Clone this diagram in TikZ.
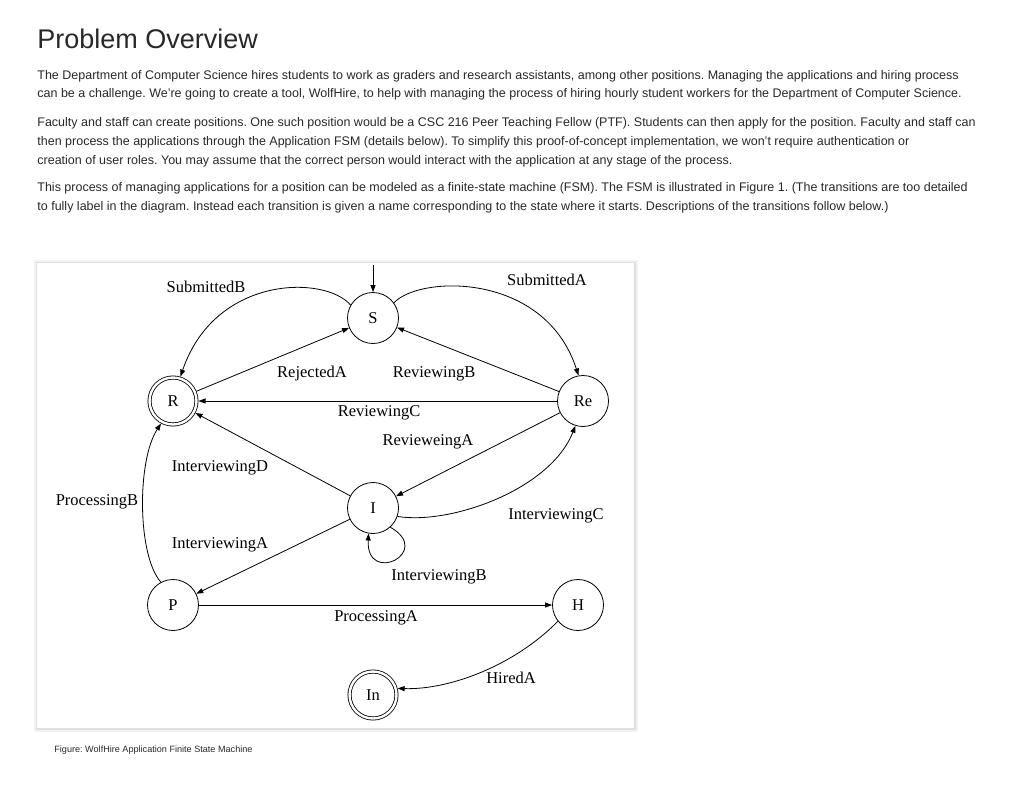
\documentclass[tikz,border=0pt]{standalone}
\usepackage{fontspec}
\setmainfont{Liberation Sans}
\newfontfamily\fsmfont{Liberation Serif}
\usetikzlibrary{arrows.meta}
\definecolor{textgray}{RGB}{40,40,40}
\frenchspacing
\tikzset{
	state/.style={circle, draw, minimum size=51pt, inner sep=0pt, font=\fsmfont\fontsize{16.5}{16.5}\selectfont},
	final/.style={state, double, double distance=2.4pt, minimum size=47pt, outer sep=2pt},
	trans/.style={inner sep=0pt, font=\fsmfont\fontsize{16.5}{16.5}\selectfont},
	body/.style={anchor=base west, inner sep=0pt, text=textgray, font=\fontsize{12.5}{14}\selectfont},
}
\begin{document}
\begin{tikzpicture}[x=1pt, y=-1pt, line width=0.8pt, >={Triangle[length=7pt,width=5pt]}]
	\useasboundingbox (0,0) rectangle (1024,787);
	
	\node[anchor=base west, inner sep=0pt, text=textgray, font=\fontsize{27}{30}\selectfont] (title) at (37,48) {Problem Overview};
	\node[body] (l1) at (37,79) {The Department of Computer Science hires students to work as graders and research assistants, among other positions. Managing the applications and hiring process};
	\node[body] (l2) at (37,97.5) {can be a challenge. We’re going to create a tool, WolfHire, to help with managing the process of hiring hourly student workers for the Department of Computer Science.};
	\node[body] (l3) at (37,126.5) {Faculty and staff can create positions. One such position would be a CSC 216 Peer Teaching Fellow (PTF). Students can then apply for the position. Faculty and staff can};
	\node[body] (l4) at (37,145.5) {then process the applications through the Application FSM (details below). To simplify this proof-of-concept implementation, we won’t require authentication or};
	\node[body] (l5) at (37,164.5) {creation of user roles. You may assume that the correct person would interact with the application at any stage of the process.};
	\node[body] (l6) at (37,191.5) {This process of managing applications for a position can be modeled as a finite-state machine (FSM). The FSM is illustrated in Figure 1. (The transitions are too detailed};
	\node[body] (l7) at (37,210) {to fully label in the diagram. Instead each transition is given a name corresponding to the state where it starts. Descriptions of the transitions follow below.)};
	
	% marco de la figura
	\fill[black!5] (34,260) rectangle (638,732);
	\fill[black!13] (36,262) rectangle (636,730);
	\fill[white] (37,263) rectangle (634,728);
	
	\node[state] (S) at (373,318) {S};
	\node[final] (R) at (173,401) {R};
	\node[state] (Re) at (583,401) {Re};
	\node[state] (I) at (373,508) {I};
	\node[state] (P) at (173,605) {P};
	\node[state] (H) at (578,605) {H};
	\node[final] (In) at (373,695) {In};
	\coordinate (start) at (373,265);
	
	\draw[->] (start) -- (S);
	\draw[->] (S.36) .. controls (420,275) and (545,272) .. (Re.100);
	\draw[->] (S.150) .. controls (325,275) and (215,275) .. (R.73);
	\draw[->] (R) -- (S);
	\draw[->] (Re) -- (S);
	\draw[->] (Re) -- (R);
	\draw[->] (Re) -- (I);
	\draw[->] (I.-19) .. controls (450,525) and (550,490) .. (Re.-107);
	\draw[->] (I) -- (R);
	\draw[->] (I) -- (P);
	\draw[->] (I.-48) .. controls (434,552) and (366,586) .. (I.-100);
	\draw[->] (P.118) .. controls (137,555) and (137,460) .. (R.-118);
	\draw[->] (P) -- (H);
	\draw[->] (H.-141) .. controls (515,665) and (450,690) .. (In.15);
	
	\node[trans] (tSubB) at (206,287) {SubmittedB};
	\node[trans] (tSubA) at (547,280) {SubmittedA};
	\node[trans] (tRejA) at (312,374) {RejectedA};
	\node[trans] (tRevB) at (434,374) {ReviewingB};
	\node[trans] (tRevC) at (379,413) {ReviewingC};
	\node[trans] (tRevA) at (428,442) {RevieweingA};
	\node[trans] (tIntD) at (220,468) {InterviewingD};
	\node[trans] (tProB) at (97,502) {ProcessingB};
	\node[trans] (tIntC) at (556,516) {InterviewingC};
	\node[trans] (tIntA) at (220,545) {InterviewingA};
	\node[trans] (tIntB) at (439,577) {InterviewingB};
	\node[trans] (tProA) at (376,618) {ProcessingA};
	\node[trans] (tHirA) at (511,678) {HiredA};
	
	\node[anchor=base west, inner sep=0pt, text=textgray, font=\fontsize{9.1}{10}\selectfont] (caption) at (54,752) {Figure: WolfHire Application Finite State Machine};
\end{tikzpicture}
\end{document}
